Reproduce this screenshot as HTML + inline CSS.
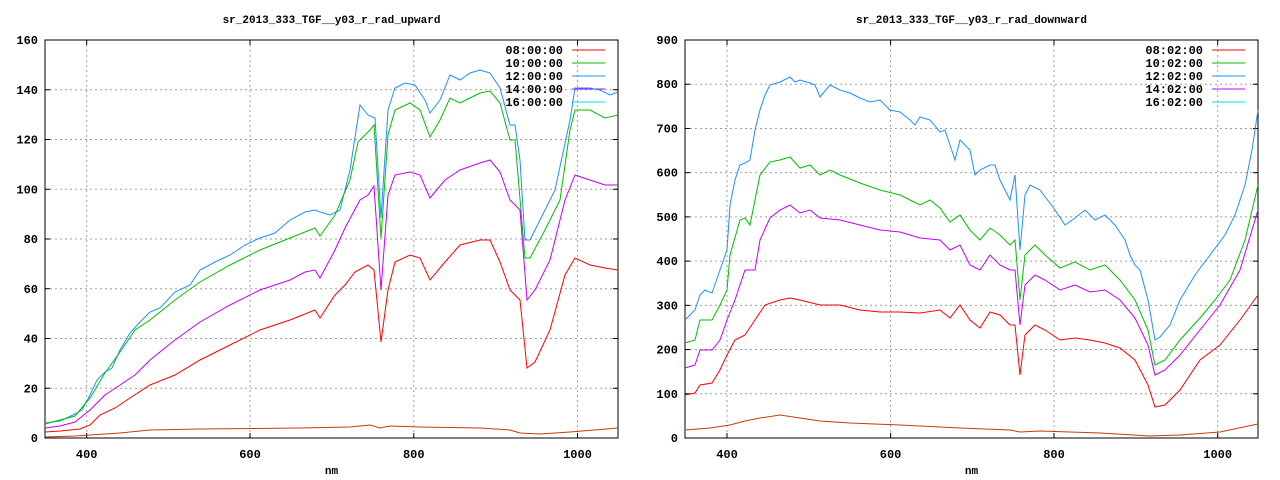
<!DOCTYPE html>
<html><head><meta charset="utf-8"><style>
html,body{margin:0;padding:0;background:#fff;width:1280px;height:480px;overflow:hidden}
svg text{font-family:"Liberation Mono",monospace;font-weight:bold;font-size:12px;fill:#000}
</style></head><body>
<svg id="s" width="1280" height="480" xmlns="http://www.w3.org/2000/svg"></svg>
<script>
var s=document.getElementById('s'),h='';
function L(x1,y1,x2,y2,c,d){h+='<line x1="'+x1+'" y1="'+y1+'" x2="'+x2+'" y2="'+y2+'" stroke="'+c+'" stroke-width="1"'+(d?' stroke-dasharray="2,3"':'')+'/>';}
function T(x,y,t,a,fs){h+='<text x="'+x+'" y="'+y+'" text-anchor="'+(a||'middle')+'"'+(fs?' style="font-size:'+fs+'px"':'')+'>'+t+'</text>';}
function P(pts,c){h+='<polyline fill="none" stroke="'+c+'" stroke-width="1" points="'+pts.map(p=>p.join(',')).join(' ')+'"/>';}
var C={b:'#1e90ff',g:'#00c000',m:'#c000ff',r:'#ff0000',o:'#c04000'};
function panel(x0,x1,step,ymax,ystep,xt,title,leg){
  var y0=438,yt=40;
  for(var v=0;v<=ymax;v+=ystep){var y=y0-(v/ymax)*(y0-yt);if(v>0&&v<ymax)L(x0,y,x1,y,'#a0a0a0',1);T(x0-7,y+4,v,'end');L(x0,y,x0+5,y,'#000');L(x1,y,x1-5,y,'#000');}
  xt.forEach(function(p){L(p[0],yt,p[0],y0,'#a0a0a0',1);T(p[0],458,p[1]);L(p[0],y0,p[0],y0-5,'#000');L(p[0],yt,p[0],yt+5,'#000');});
  T((x0+x1)/2,23,title,'middle',11);T((x0+x1)/2,474,'nm','middle',11);
  var cols=[C.r,C.g,C.b,C.m,'#00e0e0'];
  leg.forEach(function(t,i){var y=50+i*13;T(x1-55,y+4,t,'end');L(x1-46,y,x1-13,y,cols[i]);});
  h+='<rect x="'+x0+'" y="'+yt+'" width="'+(x1-x0)+'" height="'+(y0-yt)+'" fill="none" stroke="#000"/>';
}
panel(45,618,0,160,20,[[86.7,400],[250,600],[413.8,800],[577.5,1000]],'sr_2013_333_TGF__y03_r_rad_upward',['08:00:00','10:00:00','12:00:00','14:00:00','16:00:00']);
panel(685,1258,0,900,100,[[727,400],[890.6,600],[1054,800],[1217.7,1000]],'sr_2013_333_TGF__y03_r_rad_downward',['08:02:00','10:02:00','12:02:00','14:02:00','16:02:00']);
P([[45,423],[60,421],[75,414],[82,410],[90,395],[97,380],[105,372],[112,368],[120,350],[130,333],[140,322],[150,312],[160,308],[175,292],[190,285],[200,270],[215,262],[230,255],[245,245],[260,238],[275,233],[290,220],[305,212],[315,210],[320,212],[330,215],[340,210],[350,170],[360,105],[368,115],[375,118],[381,218],[388,110],[395,88],[405,83],[415,85],[425,100],[430,113],[440,100],[450,75],[460,80],[470,73],[480,70],[490,73],[500,88],[510,125],[515,125],[520,160],[525,240],[530,240],[540,220],[555,190],[570,120],[575,88],[590,88],[600,90],[610,95],[618,92]],C.b);
P([[45,424],[75,416],[90,398],[105,373],[120,352],[135,330],[150,320],[175,300],[200,282],[230,265],[260,250],[290,238],[315,228],[320,236],[335,215],[350,180],[358,142],[370,130],[374,125],[381,238],[388,135],[395,110],[410,103],[420,110],[430,137],[440,120],[450,98],[460,103],[470,98],[480,93],[490,91],[500,103],[510,140],[515,140],[525,258],[530,258],[545,230],[560,200],[570,130],[575,110],[590,110],[605,118],[618,115]],C.g);
P([[45,428],[60,426],[75,422],[90,410],[105,395],[120,385],[135,375],[150,360],[175,340],[200,322],[230,305],[260,290],[290,280],[305,272],[315,270],[320,278],[335,250],[345,228],[360,200],[368,195],[374,186],[381,290],[388,195],[395,175],[410,172],[420,175],[430,198],[445,180],[460,170],[480,163],[490,160],[500,172],[510,200],[520,210],[527,300],[535,290],[550,260],[565,200],[575,175],[590,180],[605,185],[618,185]],C.m);
P([[45,432],[60,431],[80,429],[90,425],[100,415],[115,408],[130,398],[150,385],[175,375],[200,360],[230,345],[260,330],[290,320],[315,310],[320,318],[335,295],[345,285],[355,272],[368,265],[374,270],[381,342],[388,290],[395,262],[410,255],[420,258],[430,280],[445,262],[460,245],[480,240],[490,240],[500,262],[510,290],[520,300],[527,368],[535,362],[550,330],[565,275],[575,258],[590,265],[605,268],[618,270]],C.r);
P([[45,437],[75,436],[90,435],[120,433],[150,430],[200,429],[300,428],[350,427],[370,425],[380,428],[390,426],[420,427],[480,428],[510,430],[520,433],[540,434],[570,432],[618,428]],C.o);
P([[685,320],[695,310],[700,295],[705,290],[712,293],[720,270],[727,250],[730,205],[735,180],[740,165],[745,163],[750,160],[755,130],[760,110],[765,95],[770,85],[780,82],[790,77],[795,82],[800,80],[810,83],[815,85],[820,97],[830,85],[840,90],[850,93],[860,98],[870,102],[880,100],[890,110],[900,112],[910,120],[915,125],[920,117],[930,120],[940,132],[945,130],[955,160],[960,140],[970,150],[975,175],[980,170],[990,165],[995,165],[1000,180],[1010,200],[1015,175],[1020,250],[1025,195],[1030,185],[1040,190],[1055,210],[1065,225],[1075,218],[1085,210],[1095,220],[1105,215],[1115,225],[1125,240],[1130,255],[1135,265],[1140,270],[1148,300],[1155,340],[1160,337],[1170,325],[1180,300],[1195,275],[1210,255],[1225,235],[1235,215],[1245,185],[1252,150],[1258,110]],C.b);
P([[685,343],[695,340],[700,320],[712,320],[720,305],[727,290],[730,255],[740,220],[745,218],[750,225],[760,175],[770,162],[780,160],[790,157],[800,168],[810,165],[820,175],[830,170],[840,175],[860,183],[880,190],[900,195],[910,200],[920,205],[930,200],[940,208],[950,222],[960,215],[970,230],[980,240],[990,228],[1000,235],[1010,245],[1015,240],[1020,300],[1025,255],[1035,245],[1045,255],[1060,268],[1075,262],[1090,270],[1105,265],[1120,280],[1135,300],[1148,330],[1155,365],[1165,360],[1180,340],[1200,318],[1215,300],[1230,280],[1245,240],[1258,185]],C.g);
P([[685,368],[695,365],[700,350],[712,350],[720,340],[727,320],[735,300],[745,270],[755,270],[760,240],[770,218],[780,210],[790,205],[800,213],[810,210],[820,218],[840,220],[860,225],[880,230],[900,232],[910,235],[920,238],[940,240],[950,250],[960,245],[970,265],[980,270],[990,255],[1000,265],[1010,270],[1015,270],[1020,325],[1025,285],[1035,275],[1045,280],[1060,290],[1075,285],[1090,292],[1105,290],[1120,300],[1135,318],[1148,345],[1155,375],[1165,370],[1180,355],[1200,330],[1220,305],[1240,270],[1258,210]],C.m);
P([[685,395],[695,393],[700,385],[712,383],[720,370],[727,355],[735,340],[745,335],[755,320],[765,305],[780,300],[790,298],[800,300],[820,305],[840,305],[860,310],[880,312],[900,312],[920,313],[940,310],[950,318],[960,305],[970,320],[980,328],[990,312],[1000,315],[1010,325],[1015,325],[1020,375],[1025,335],[1035,325],[1045,330],[1060,340],[1075,338],[1090,340],[1105,343],[1120,348],[1135,360],[1148,385],[1155,407],[1165,405],[1180,390],[1200,360],[1220,345],[1240,320],[1258,295]],C.r);
P([[685,430],[710,428],[730,425],[745,421],[760,418],[780,415],[800,418],[820,421],[850,423],[900,425],[960,428],[1010,430],[1020,432],[1040,431],[1100,433],[1150,436],[1180,435],[1220,432],[1258,424]],C.o);
s.innerHTML=h;
</script>
</body></html>
